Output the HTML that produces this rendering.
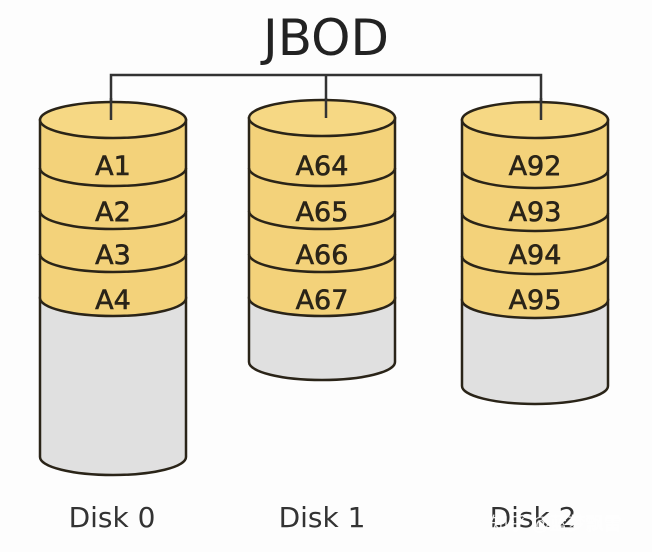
<!DOCTYPE html>
<html><head><style>body{margin:0;background:#fff}svg{display:block}</style></head><body>
<svg width="652" height="552" viewBox="0 0 652 552" font-family="DejaVu Sans, Liberation Sans, sans-serif">
<rect width="652" height="552" fill="#fdfdfd"/>
<text x="326" y="55" font-size="50" text-anchor="middle" fill="#222">JBOD</text>
<path d="M111 120 V75 H541 V120 M326 75 V120" stroke="#333" stroke-width="2.5" fill="none"/>
<g stroke="#2a2418" stroke-width="2.5">
 <path d="M40 298 V457 A73 18 0 0 0 186 457 V298 Z" fill="#e0e0e0"/>
 <path d="M40 120 V298 A73 18 0 0 0 186 298 V120 Z" fill="#f3d27a"/>
 <path d="M40 168 A73 18 0 0 0 186 168 M40 211 A73 18 0 0 0 186 211 M40 254 A73 18 0 0 0 186 254" fill="none"/>
 <ellipse cx="113" cy="120" rx="73" ry="18" fill="#f6d884"/>
 <path d="M249 298 V362 A73 18 0 0 0 395 362 V298 Z" fill="#e0e0e0"/>
 <path d="M249 118 V298 A73 18 0 0 0 395 298 V118 Z" fill="#f3d27a"/>
 <path d="M249 168 A73 18 0 0 0 395 168 M249 211 A73 18 0 0 0 395 211 M249 254 A73 18 0 0 0 395 254" fill="none"/>
 <ellipse cx="322" cy="118" rx="73" ry="18" fill="#f6d884"/>
 <path d="M462 300 V386 A73 18 0 0 0 608 386 V300 Z" fill="#e0e0e0"/>
 <path d="M462 120 V300 A73 18 0 0 0 608 300 V120 Z" fill="#f3d27a"/>
 <path d="M462 170 A73 18 0 0 0 608 170 M462 213 A73 18 0 0 0 608 213 M462 256 A73 18 0 0 0 608 256" fill="none"/>
 <ellipse cx="535" cy="120" rx="73" ry="18" fill="#f6d884"/>
</g>
<path d="M111 98 V120 M326 98 V118 M541 98 V120" stroke="#333" stroke-width="2.5"/>
<g font-size="27" text-anchor="middle" fill="#2a2418" stroke="#2a2418" stroke-width="0.6">
 <text x="113" y="175">A1</text><text x="113" y="221">A2</text><text x="113" y="264">A3</text><text x="113" y="309">A4</text>
 <text x="322" y="175">A64</text><text x="322" y="221">A65</text><text x="322" y="264">A66</text><text x="322" y="309">A67</text>
 <text x="535" y="175">A92</text><text x="535" y="221">A93</text><text x="535" y="264">A94</text><text x="535" y="309">A95</text>
</g>
<g font-size="28" text-anchor="middle" fill="#333">
 <text x="112" y="527">Disk 0</text><text x="322" y="527">Disk 1</text><text x="533" y="527">Disk 2</text>
</g>
<text x="556" y="530" font-size="18" text-anchor="middle" fill="#fff" font-family="Liberation Sans, Noto Sans CJK SC, sans-serif" opacity="0.9">知乎 @蓝梦飘雷</text>
</svg>
</body></html>
